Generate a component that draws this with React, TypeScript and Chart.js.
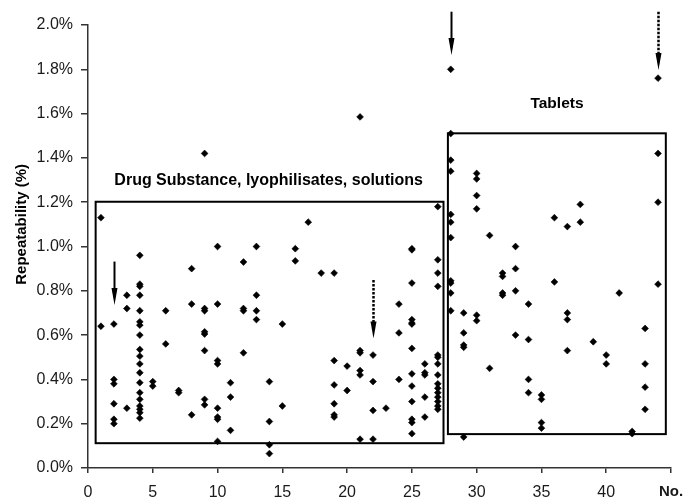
import React, { useEffect, useRef } from 'react';
import { Chart, registerables } from 'chart.js';

Chart.register(...registerables);

const FONT = '"Liberation Sans", Arial, Helvetica, sans-serif';

// Sample numbers and their repeatability results (%) — drug substances, lyophilisates, solutions
const substanceNos = [1, 2, 3, 4, 5, 6, 7, 8, 9, 10, 11, 12, 13, 14, 15, 16, 17, 18, 19, 20, 21, 22, 23, 24, 25, 26, 27];
const substanceRsd: number[][] = [
  [1.13, 0.64],
  [0.65, 0.4, 0.38, 0.29, 0.22, 0.2],
  [0.78, 0.72, 0.27],
  [0.96, 0.83, 0.82, 0.78, 0.71, 0.66, 0.645, 0.6, 0.535, 0.505, 0.47, 0.43, 0.385, 0.34, 0.31, 0.28, 0.265, 0.25, 0.225],
  [0.39, 0.37],
  [0.71, 0.56],
  [0.35, 0.34],
  [0.9, 0.74, 0.24],
  [1.42, 0.72, 0.71, 0.615, 0.605, 0.53, 0.31, 0.285],
  [1.0, 0.74, 0.485, 0.47, 0.27, 0.23, 0.22, 0.12],
  [0.385, 0.32, 0.17],
  [0.93, 0.72, 0.71, 0.52],
  [1.0, 0.78, 0.71, 0.67],
  [0.39, 0.21, 0.105, 0.065],
  [0.65, 0.28],
  [0.99, 0.935],
  [1.11],
  [0.88],
  [0.88, 0.485, 0.375, 0.29, 0.24, 0.23],
  [0.46, 0.35],
  [1.585, 0.53, 0.52, 0.44, 0.42, 0.13],
  [0.51, 0.39, 0.26, 0.13],
  [0.27],
  [0.74, 0.61, 0.4],
  [0.99, 0.985, 0.835, 0.67, 0.655, 0.65, 0.54, 0.425, 0.37, 0.3, 0.22, 0.205, 0.155],
  [0.47, 0.43, 0.42, 0.32, 0.23],
  [1.18, 0.94, 0.88, 0.82, 0.51, 0.5, 0.47, 0.42, 0.38, 0.36, 0.34, 0.32, 0.3, 0.28, 0.265],
];

// Sample numbers and their repeatability results (%) — tablets
const tabletNos = [28, 29, 30, 31, 32, 33, 34, 35, 36, 37, 38, 39, 40, 41, 42, 43, 44];
const tabletRsd: number[][] = [
  [1.8, 1.51, 1.39, 1.34, 1.145, 1.11, 1.04, 0.845, 0.835, 0.79, 0.71],
  [0.7, 0.61, 0.555, 0.545, 0.14],
  [1.33, 1.305, 1.23, 1.17, 0.69, 0.665],
  [1.05, 0.45],
  [0.88, 0.865, 0.79, 0.78],
  [1.0, 0.9, 0.8, 0.6],
  [0.74, 0.58, 0.4, 0.34],
  [0.33, 0.31, 0.205, 0.18],
  [1.13, 0.84],
  [1.09, 0.7, 0.67, 0.53],
  [1.19, 1.11],
  [0.57],
  [0.51, 0.47],
  [0.79],
  [0.165, 0.155],
  [0.63, 0.47, 0.365, 0.265],
  [1.76, 1.42, 1.2, 0.83],
];

// Axis ticks
const xTicks = [0, 5, 10, 15, 20, 25, 30, 35, 40, 45];
const xEndLabel = 'No.';
const yTicks = [0, 0.2, 0.4, 0.6, 0.8, 1.0, 1.2, 1.4, 1.6, 1.8, 2.0];
const yTitle = 'Repeatability (%)';

// Group frames: [No. from, No. to, % from, % to]
const substanceBox = [0.59, 27.44, 0.112, 1.202];
const tabletBox = [27.78, 44.6, 0.153, 1.511];

// Group captions, anchored at their centre (No., %)
const groupLabels = ['Drug Substance, lyophilisates, solutions', 'Tablets'];
const groupLabelNo = [13.94, 36.2];
const groupLabelRsd = [1.296, 1.643];

// Highlight arrows: sample No., tail (%), tip (%), dotted
const arrowNo = [2, 22, 28, 44];
const arrowFrom = [0.932, 0.849, 2.06, 2.06];
const arrowTo = [0.736, 0.585, 1.865, 1.797];
const arrowDotted = [false, true, false, true];

function toPoints(nos: number[], values: number[][]) {
  return nos.flatMap((n, i) => values[i].map((v) => ({ x: n, y: v })));
}

const notesPlugin = {
  id: 'groupNotes',
  beforeDatasetsDraw(chart: any) {
    const { ctx } = chart;
    const xs = chart.scales.x;
    const ys = chart.scales.y;
    ctx.save();
    ctx.strokeStyle = '#000';
    ctx.lineWidth = 2;
    for (const box of [substanceBox, tabletBox]) {
      const l = xs.getPixelForValue(box[0]);
      const r = xs.getPixelForValue(box[1]);
      const b = ys.getPixelForValue(box[2]);
      const t = ys.getPixelForValue(box[3]);
      ctx.strokeRect(l, t, r - l, b - t);
    }
    ctx.restore();
  },
  afterDatasetsDraw(chart: any) {
    const { ctx } = chart;
    const xs = chart.scales.x;
    const ys = chart.scales.y;
    ctx.save();
    ctx.fillStyle = '#000';
    ctx.strokeStyle = '#000';

    // arrows
    arrowNo.forEach((no, i) => {
      const px = Math.round(xs.getPixelForValue(no)) + 0.5;
      const yTop = ys.getPixelForValue(arrowFrom[i]);
      const yTip = ys.getPixelForValue(arrowTo[i]);
      const head = 17;
      const half = 3;
      ctx.beginPath();
      if (arrowDotted[i]) {
        ctx.setLineDash([2.5, 1.5]);
        ctx.lineWidth = 2.5;
      } else {
        ctx.setLineDash([]);
        ctx.lineWidth = 2;
      }
      ctx.moveTo(px, yTop);
      ctx.lineTo(px, yTip - head + 2);
      ctx.stroke();
      ctx.setLineDash([]);
      ctx.beginPath();
      ctx.moveTo(px - half, yTip - head);
      ctx.lineTo(px + half, yTip - head);
      ctx.lineTo(px, yTip);
      ctx.closePath();
      ctx.fill();
    });

    // group captions
    ctx.textAlign = 'center';
    ctx.textBaseline = 'middle';
    groupLabels.forEach((text, i) => {
      ctx.font = `bold ${i === 0 ? 16 : 15.5}px ${FONT}`;
      ctx.fillText(text, xs.getPixelForValue(groupLabelNo[i]), ys.getPixelForValue(groupLabelRsd[i]));
    });

    // y-axis title
    ctx.translate(22, ys.getPixelForValue(1.1));
    ctx.rotate(-Math.PI / 2);
    ctx.font = `bold 15px ${FONT}`;
    ctx.fillText(yTitle, 0, 0);
    ctx.restore();
  },
};

export default function App() {
  const ref = useRef<HTMLCanvasElement>(null);

  useEffect(() => {
    if (!ref.current) return;
    const pointStyle = {
      pointStyle: 'rectRot' as const,
      pointRadius: 3.4,
      pointHoverRadius: 3.4,
      pointBorderWidth: 0.6,
      backgroundColor: '#000',
      borderColor: '#000',
      clip: false as const,
    };
    const chart = new Chart(ref.current, {
      type: 'scatter',
      data: {
        datasets: [
          { label: groupLabels[0], data: toPoints(substanceNos, substanceRsd), ...pointStyle },
          { label: groupLabels[1], data: toPoints(tabletNos, tabletRsd), ...pointStyle },
        ],
      },
      options: {
        responsive: false,
        animation: false,
        devicePixelRatio: 1,
        layout: { padding: { top: 25, right: 14, left: 0, bottom: 0 } },
        plugins: { legend: { display: false }, tooltip: { enabled: false } },
        scales: {
          x: {
            type: 'linear',
            min: xTicks[0],
            max: xTicks[xTicks.length - 1],
            afterBuildTicks: (scale: any) => {
              scale.ticks = xTicks.map((v) => ({ value: v }));
            },
            afterFit: (scale: any) => {
              scale.height = 30;
              scale.paddingLeft = 0;
              scale.paddingRight = 0;
            },
            ticks: {
              color: '#1a1a1a',
              padding: 10,
              maxRotation: 0,
              autoSkip: false,
              callback: (v: any) => (v === xTicks[xTicks.length - 1] ? xEndLabel : String(v)),
              font: (c: any) =>
                c.tick && c.tick.value === xTicks[xTicks.length - 1]
                  ? { family: FONT, size: 15, weight: 'bold' }
                  : { family: FONT, size: 16 },
            },
            grid: { drawOnChartArea: false, drawTicks: true, tickLength: 5, color: '#333', lineWidth: 1.5 },
            border: { display: true, color: '#333', width: 1.5 },
          },
          y: {
            type: 'linear',
            min: yTicks[0],
            max: yTicks[yTicks.length - 1],
            afterBuildTicks: (scale: any) => {
              scale.ticks = yTicks.map((v) => ({ value: v }));
            },
            afterFit: (scale: any) => {
              scale.width = 88;
            },
            ticks: {
              color: '#1a1a1a',
              padding: 8,
              autoSkip: false,
              callback: (v: any) => Number(v).toFixed(1) + '%',
              font: { family: FONT, size: 16 },
            },
            grid: { drawOnChartArea: false, drawTicks: true, tickLength: 7, color: '#333', lineWidth: 1.5 },
            border: { display: true, color: '#333', width: 1.5 },
          },
        },
      },
      plugins: [notesPlugin],
    });
    return () => chart.destroy();
  }, []);

  return (
    <div style={{ position: 'absolute', left: 0, top: 0, width: 685, height: 498, background: '#fff' }}>
      <canvas ref={ref} width={685} height={498} style={{ display: 'block' }} />
    </div>
  );
}
